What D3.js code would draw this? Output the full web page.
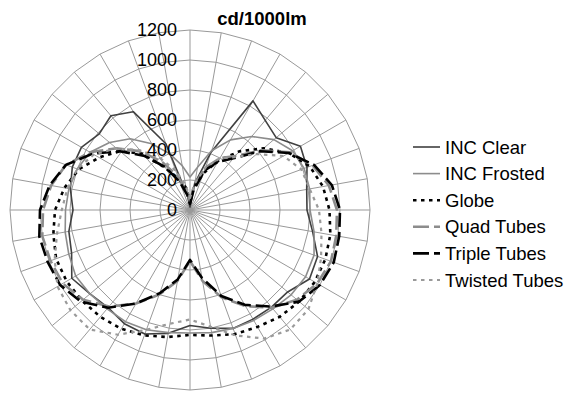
<!DOCTYPE html>
<html>
<head>
<meta charset="utf-8">
<style>
  body { margin: 0; background: #fff; }
  text { font-family: "Liberation Sans", Arial, sans-serif; fill: #000; }
  .grid { fill: none; stroke: #999; stroke-width: 1; }
  .series { fill: none; stroke-linejoin: round; }
</style>
</head>
<body>
<svg width="573" height="394"></svg>
<script src="https://d3js.org/d3.v7.min.js"></script>
<script>
// angles in degrees, clockwise from the top
var angles = d3.range(0, 360, 10);
var ticks = [0, 200, 400, 600, 800, 1000, 1200];
var names = ["INC Clear", "INC Frosted", "Globe", "Quad Tubes", "Triple Tubes", "Twisted Tubes"];

var incClear    = [20, 180, 410, 840, 780, 750, 850, 830, 790, 780, 830, 905, 920, 850, 845, 840, 840, 800,
                   770, 835, 880, 875, 850, 870, 910, 840, 820, 780, 810, 835, 836, 790, 820, 757, 470, 100];
var incFrosted  = [220, 290, 420, 540, 640, 730, 790, 810, 810, 800, 840, 880, 890, 880, 860, 850, 840, 830,
                   820, 830, 850, 860, 860, 870, 880, 860, 845, 830, 820, 800, 770, 700, 620, 510, 400, 300];
var globe       = [60, 150, 260, 380, 510, 640, 760, 850, 900, 930, 950, 960, 960, 950, 930, 900, 880, 850,
                   833, 860, 890, 915, 930, 940, 950, 950, 925, 900, 850, 790, 700, 610, 490, 320, 220, 150];
var quadTubes   = [60, 170, 300, 400, 470, 620, 770, 870, 940, 980, 990, 1000, 980, 930, 850, 740, 620, 480,
                   340, 480, 600, 720, 840, 930, 980, 990, 1000, 980, 940, 880, 770, 640, 510, 370, 240, 130];
var tripleTubes = [40, 130, 280, 370, 450, 610, 760, 880, 960, 1000, 1010, 1020, 1000, 950, 840, 730, 610, 460,
                   333, 470, 590, 720, 850, 950, 1000, 1010, 1020, 1000, 950, 880, 750, 610, 470, 330, 200, 100];
var twistedTubes= [80, 180, 300, 400, 460, 580, 720, 790, 810, 860, 890, 930, 980, 1030, 1040, 990, 890, 790,
                   730, 770, 850, 960, 1040, 1040, 1020, 960, 900, 855, 830, 800, 740, 640, 520, 400, 280, 170];

var values = [incClear, incFrosted, globe, quadTubes, tripleTubes, twistedTubes];
var styles = [
  {color: "#404040", width: 1.6, dash: null},
  {color: "#8c8c8c", width: 1.6, dash: null},
  {color: "#000000", width: 2.6, dash: "3.5,4.5"},
  {color: "#8c8c8c", width: 2.6, dash: "14,5"},
  {color: "#000000", width: 2.6, dash: "14,5"},
  {color: "#9a9a9a", width: 2.2, dash: "3.5,4.5"}
];

var svg = d3.select("svg");
var cx = 190, cy = 210, R = 180;

var r = d3.scaleLinear().domain([0, 1200]).range([0, R]);
var a = d3.scaleLinear().domain([0, 360]).range([0, 2 * Math.PI]);

var g = svg.append("g").attr("transform", "translate(" + cx + "," + cy + ")");

// circular grid (polygons through every spoke)
var ring = d3.lineRadial()
  .angle(function(d) { return a(d); })
  .curve(d3.curveLinearClosed);

ticks.slice(1).forEach(function(t) {
  g.append("path").attr("class", "grid")
    .attr("d", ring.radius(r(t))(angles));
});

// spokes
g.selectAll(".spoke").data(angles).enter().append("line")
  .attr("class", "grid")
  .attr("x1", 0).attr("y1", 0)
  .attr("x2", function(d) { return Math.sin(a(d)) * r(1200); })
  .attr("y2", function(d) { return -Math.cos(a(d)) * r(1200); });

// series
var line = d3.lineRadial()
  .angle(function(d, i) { return a(angles[i]); })
  .radius(function(d) { return r(d); })
  .curve(d3.curveLinearClosed);

values.forEach(function(v, i) {
  g.append("path").attr("class", "series")
    .attr("d", line(v))
    .attr("stroke", styles[i].color)
    .attr("stroke-width", styles[i].width)
    .attr("stroke-dasharray", styles[i].dash);
});

// value labels along the top spoke
g.selectAll(".tick").data(ticks).enter().append("text")
  .attr("x", -13)
  .attr("y", function(d) { return -r(d); })
  .attr("dy", "0.36em")
  .attr("text-anchor", "end")
  .style("font-size", "18px")
  .text(function(d) { return d; });

// title
svg.append("text")
  .attr("x", 262).attr("y", 25)
  .attr("text-anchor", "middle")
  .style("font-size", "18.5px").style("font-weight", "bold")
  .text("cd/1000lm");

// legend
var leg = svg.append("g").attr("transform", "translate(413,147)");
var rows = leg.selectAll("g").data(names).enter().append("g")
  .attr("transform", function(d, i) { return "translate(0," + (i * 26.6) + ")"; });
rows.append("line")
  .attr("x1", 0).attr("x2", 27).attr("y1", 0).attr("y2", 0)
  .attr("stroke", function(d, i) { return styles[i].color; })
  .attr("stroke-width", function(d, i) { return styles[i].width; })
  .attr("stroke-dasharray", function(d, i) { return styles[i].dash ? (styles[i].dash === "14,5" ? "16,5" : "3.5,4.5") : null; });
rows.append("text")
  .attr("x", 32).attr("y", 0).attr("dy", "0.36em")
  .style("font-size", "18.5px")
  .text(function(d) { return d; });
</script>
</body>
</html>
